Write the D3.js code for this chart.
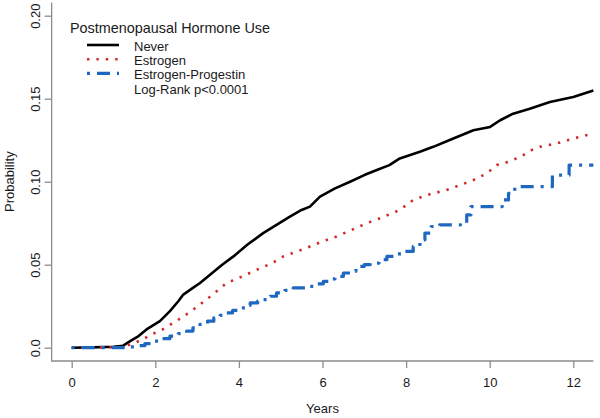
<!DOCTYPE html>
<html><head><meta charset="utf-8">
<script src="https://cdn.jsdelivr.net/npm/d3@7"></script>
<style>body{margin:0;background:#fff;}svg{display:block;font-family:"Liberation Sans",Arial,Helvetica,sans-serif;}</style>
</head><body><div id="chart"></div>
<script>
const xTicks = [0, 2, 4, 6, 8, 10, 12];
const yTicks = [0, 0.05, 0.10, 0.15, 0.20];
const yTickLabels = ["0.0", "0.05", "0.10", "0.15", "0.20"];
const seriesNames = ["Never", "Estrogen", "Estrogen-Progestin"];
const legendTitle = "Postmenopausal Hormone Use";
const legendNote = "Log-Rank p<0.0001";

const neverT = [0,0.5,1.0,1.23,1.39,1.6,1.79,2.11,2.35,2.55,2.67,2.9,3.07,3.31,3.6,3.87,4.2,4.58,4.9,5.22,5.5,5.7,5.94,6.3,6.66,7.0,7.3,7.6,7.85,8.33,8.65,9.13,9.61,10.01,10.25,10.56,10.96,11.44,12.0,12.48];
const neverP = [0,0.0002,0.0006,0.0012,0.0038,0.007,0.011,0.016,0.022,0.028,0.032,0.036,0.039,0.044,0.050,0.055,0.062,0.069,0.074,0.079,0.083,0.085,0.091,0.096,0.100,0.104,0.107,0.110,0.114,0.118,0.121,0.126,0.131,0.133,0.137,0.141,0.144,0.148,0.151,0.155];

const estT = [0,1.2,1.4,1.71,1.9,2.11,2.5,2.8,3.07,3.47,3.71,4.0,4.43,4.8,5.06,5.4,5.7,6.0,6.34,6.7,7.06,7.38,7.85,8.17,8.5,8.97,9.3,9.61,9.93,10.17,10.45,10.73,11.0,11.2,11.6,12.0,12.48];
const estP = [0,0.0003,0.002,0.005,0.008,0.010,0.016,0.021,0.026,0.034,0.039,0.042,0.047,0.051,0.055,0.058,0.061,0.064,0.067,0.071,0.075,0.078,0.083,0.089,0.092,0.095,0.098,0.101,0.105,0.110,0.112,0.115,0.119,0.121,0.123,0.126,0.129];

const epT = [0,1.3,1.55,1.75,1.95,2.15,2.35,2.55,2.75,2.9,3.07,3.25,3.4,3.55,3.71,3.85,4.0,4.15,4.27,4.45,4.58,4.75,4.9,5.1,5.3,5.62,5.8,6.02,6.15,6.3,6.5,6.7,6.8,7.0,7.14,7.35,7.54,7.75,7.93,8.17,8.33,8.45,8.6,8.8,9.3,9.45,9.55,10.3,10.45,10.6,11.5,11.9,12.48];
const epP = [0,0.0005,0.0012,0.0025,0.004,0.0055,0.007,0.0085,0.010,0.012,0.014,0.016,0.018,0.0195,0.021,0.0225,0.024,0.0255,0.027,0.028,0.029,0.031,0.033,0.0345,0.036,0.037,0.0385,0.040,0.0415,0.043,0.045,0.046,0.049,0.050,0.051,0.053,0.055,0.0565,0.058,0.061,0.065,0.069,0.073,0.074,0.075,0.080,0.085,0.089,0.093,0.097,0.104,0.110,0.110];

const W = 600, H = 418;
const svg = d3.select("#chart").append("svg").attr("width", W).attr("height", H);
const x = d3.scaleLinear().domain([0, 12]).range([71.7, 573.3]);
const y = d3.scaleLinear().domain([0, 0.2]).range([347.7, 15.7]);
const axisCol = "#8c8c8c", textCol = "#1a1a1a";

const x0 = x(-0.48), x1 = x(12.48), yB = y(-0.008), yT = y(0.208);
svg.append("path").attr("d", `M${x0},${yT}V${yB}H${x1}`).attr("fill", "none").attr("stroke", axisCol).attr("stroke-width", 1.3);

const xAxis = d3.axisBottom(x).tickValues(xTicks).tickSize(7).tickFormat(d3.format("d"));
const gx = svg.append("g").attr("transform", `translate(0,${yB})`).call(xAxis);
gx.select(".domain").remove();
gx.selectAll("line").attr("stroke", axisCol).attr("stroke-width", 1.3);
gx.selectAll("text").attr("fill", textCol).attr("font-size", 13).attr("font-family", "Liberation Sans, Arial, sans-serif").attr("dy", null).attr("y", 26.3);

const yAxis = d3.axisLeft(y).tickValues(yTicks).tickSize(7).tickFormat((d, i) => yTickLabels[i]);
const gy = svg.append("g").attr("transform", `translate(${x0},0)`).call(yAxis);
gy.select(".domain").remove();
gy.selectAll("line").attr("stroke", axisCol).attr("stroke-width", 1.3);
gy.selectAll("text").attr("fill", textCol).attr("font-size", 13).attr("font-family", "Liberation Sans, Arial, sans-serif")
  .attr("x", null).attr("dy", null).attr("text-anchor", "middle")
  .attr("transform", "translate(-12,0) rotate(-90)");

svg.append("text").attr("x", (x0 + x1) / 2).attr("y", 413).attr("text-anchor", "middle").attr("font-size", 13).attr("fill", textCol).text("Years");
svg.append("text").attr("transform", `translate(14,${(yT + yB) / 2}) rotate(-90)`).attr("text-anchor", "middle").attr("font-size", 13).attr("fill", textCol).text("Probability");

const styles = [
  {color: "#000000", width: 2.6, dash: null, curve: d3.curveLinear},
  {color: "#d02a2a", width: 2.6, dash: "2.4,7", curve: d3.curveLinear},
  {color: "#1f68c0", width: 3.2, dash: "3,7,13,7", curve: d3.curveStepAfter}
];
const series = [
  neverT.map((t, i) => [t, neverP[i]]),
  estT.map((t, i) => [t, estP[i]]),
  epT.map((t, i) => [t, epP[i]])
];
series.forEach((s, k) => {
  const line = d3.line().x(d => x(d[0])).y(d => y(d[1])).curve(styles[k].curve);
  svg.append("path").datum(s).attr("d", line).attr("fill", "none")
    .attr("stroke", styles[k].color).attr("stroke-width", styles[k].width)
    .attr("stroke-dasharray", styles[k].dash).attr("stroke-linejoin", "round");
});

const lg = svg.append("g");
lg.append("text").attr("x", 70).attr("y", 33).attr("font-size", 14.4).attr("fill", textCol).text(legendTitle);
const rowY = [51, 65.2, 79.4];
seriesNames.forEach((n, k) => {
  lg.append("line").attr("x1", 87).attr("x2", 119).attr("y1", rowY[k] - 6).attr("y2", rowY[k] - 6)
    .attr("stroke", styles[k].color).attr("stroke-width", styles[k].width).attr("stroke-dasharray", styles[k].dash);
  lg.append("text").attr("x", 134).attr("y", rowY[k]).attr("font-size", 13).attr("fill", textCol).text(n);
});
lg.append("text").attr("x", 134).attr("y", 93.6).attr("font-size", 13).attr("fill", textCol).text(legendNote);
</script></body></html>
